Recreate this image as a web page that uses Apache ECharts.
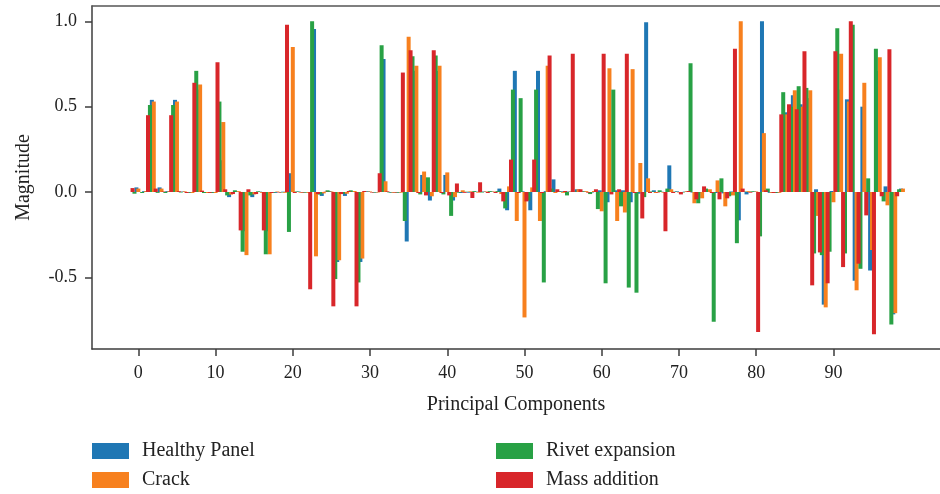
<!DOCTYPE html>
<html><head><meta charset="utf-8">
<script src="https://cdn.jsdelivr.net/npm/echarts@6/dist/echarts.min.js"></script>
<style>html,body{margin:0;padding:0;background:#fff}#c{width:940px;height:494px}</style>
</head><body><div id="c"></div>
<script>
// Principal component index (0..99)
const components = [];
for (let i = 0; i < 100; i++) components.push(i);

const xTicks = [0, 10, 20, 30, 40, 50, 60, 70, 80, 90];
const yTicks = [-0.5, 0.0, 0.5, 1.0];

const seriesNames = ['Healthy Panel', 'Crack', 'Rivet expansion', 'Mass addition'];

const healthy = [
 0.027,0.005,0.54,0.027,0.005,0.54,0.003,-0.005,0.60,-0.006,
 -0.005,0.186,-0.03,0.003,-0.23,-0.03,0.002,-0.23,-0.005,0.002,
 0.11,0.003,-0.002,0.955,-0.023,0.006,-0.41,-0.023,0.003,-0.41,
 0.004,-0.003,0.78,-0.004,-0.003,-0.29,0.71,0.10,-0.05,0.71,
 0.10,-0.05,-0.006,-0.004,0.002,0.003,0.003,0.02,-0.107,0.71,
 0.004,-0.107,0.71,0.005,0.074,0.004,0.003,0.016,0.003,-0.003,
 0.01,-0.06,0.01,0.01,-0.06,-0.01,0.995,0.01,0.002,0.156,
 0.004,0.002,-0.003,-0.005,0.004,-0.006,-0.008,0.003,-0.166,-0.014,
 0.003,1.0,-0.005,-0.006,0.467,0.567,0.514,0.55,0.016,-0.66,
 0.006,0.60,0.543,-0.52,0.50,-0.46,0.71,0.033,-0.717,0.02
];
const crack = [
 0.02,0.005,0.53,0.02,0.004,0.53,0.004,-0.006,0.63,-0.006,
 -0.006,0.41,-0.015,0.005,-0.37,-0.014,-0.005,-0.365,0.003,-0.005,
 0.85,-0.004,-0.005,-0.377,-0.008,0.003,-0.40,-0.01,0.006,-0.39,
 0.003,-0.003,0.063,-0.004,-0.004,0.91,0.74,0.12,-0.025,0.74,
 0.115,-0.03,0.01,0.004,-0.004,0.003,0.003,-0.012,0.033,-0.17,
 -0.735,0.027,-0.17,0.74,-0.006,-0.005,0.003,0.016,0.005,0.006,
 -0.113,0.725,-0.17,-0.12,0.72,0.17,0.08,-0.006,-0.004,0.016,
 -0.003,0.004,-0.066,-0.037,0.016,0.068,-0.084,-0.02,1.0,0.005,
 0.003,0.345,-0.005,-0.005,0.455,0.596,0.50,0.596,-0.14,-0.676,
 -0.06,0.81,0.53,-0.576,0.64,-0.34,0.79,-0.078,-0.71,0.02
];
const rivet = [
 -0.01,-0.006,0.51,-0.005,-0.006,0.51,-0.003,-0.004,0.71,-0.006,
 -0.005,0.53,-0.02,0.01,-0.35,-0.02,0.004,-0.365,-0.004,-0.003,
 -0.234,0.003,-0.004,1.0,-0.015,0.01,-0.51,-0.01,0.01,-0.53,
 0.002,-0.003,0.86,-0.003,-0.004,-0.17,0.795,-0.014,0.086,0.80,
 -0.014,-0.14,-0.004,0.002,0.005,-0.003,0.005,0.005,-0.096,0.60,
 0.55,-0.05,0.60,-0.53,0.02,0.004,-0.02,0.003,0.004,-0.012,
 -0.10,-0.535,0.60,-0.084,-0.56,-0.59,-0.03,0.003,0.01,0.02,
 0.002,-0.003,0.755,-0.066,0.02,-0.76,0.08,-0.025,-0.30,0.003,
 0.004,-0.26,0.02,-0.005,0.585,0.50,0.62,0.61,-0.36,-0.37,
 -0.35,0.96,-0.36,0.98,-0.45,0.08,0.84,-0.055,-0.776,0.016
];
const mass = [
 0.023,0.0,0.45,0.02,0.003,0.45,0.005,-0.006,0.64,0.008,
 -0.005,0.76,0.016,-0.012,-0.225,0.016,-0.012,-0.225,-0.006,-0.003,
 0.98,-0.006,-0.003,-0.57,-0.012,0.002,-0.67,-0.012,0.006,-0.67,
 0.006,-0.003,0.11,0.004,-0.003,0.70,0.83,-0.006,-0.02,0.83,
 -0.006,-0.02,0.05,-0.005,-0.035,0.057,-0.006,-0.006,-0.055,0.19,
 -0.006,-0.055,0.19,-0.006,0.80,0.016,0.006,0.81,0.016,-0.004,
 0.016,0.81,-0.014,0.016,0.81,-0.006,-0.155,-0.006,-0.003,-0.23,
 -0.006,-0.014,0.006,-0.043,0.033,-0.006,-0.043,-0.037,0.84,0.02,
 -0.004,-0.82,0.01,-0.006,0.455,0.514,0.485,0.825,-0.547,-0.354,
 -0.535,0.825,-0.44,1.0,-0.42,-0.137,-0.834,-0.025,0.836,-0.025
];

// layout / style settings (not data)
const shift = [-0.25, 0, -0.5, -0.75];
const colors = ['#1f77b4', '#f7801e', '#28a145', '#d8262a'];
const values = [healthy, crack, rivet, mass];
const legendPos = [[92, 441], [92, 470], [496, 441], [496, 470]];
const FONT = '"Liberation Serif", "DejaVu Serif", serif';
const AXIS = '#3c3c3c';

const chart = echarts.init(document.getElementById('c'), null, {renderer: 'canvas'});

const series = seriesNames.map((name, s) => ({
  name: name,
  type: 'bar',
  xAxisIndex: 0,
  yAxisIndex: 0,
  barWidth: 4,
  barGap: '-100%',
  itemStyle: {color: colors[s]},
  emphasis: {disabled: true},
  data: values[s].map((v, i) => [components[i] + shift[s], v])
}));

const legends = seriesNames.map((name, s) => ({
  data: [name],
  left: legendPos[s][0], top: legendPos[s][1], padding: 0,
  itemWidth: 37, itemHeight: 16, icon: 'rect', selectedMode: false,
  textStyle: {fontFamily: FONT, fontSize: 20, color: '#222', padding: [0, 0, 0, 8]}
}));

chart.setOption({
  animation: false,
  backgroundColor: '#fff',
  textStyle: {fontFamily: FONT},
  grid: {left: 92, right: 0, top: 6, bottom: 145, containLabel: false},
  xAxis: [{
    type: 'value', min: -6, max: 103.8, position: 'bottom',
    name: 'Principal Components', nameLocation: 'middle', nameGap: 46,
    nameTextStyle: {fontFamily: FONT, fontSize: 20, color: '#222'},
    axisLine: {show: true, onZero: false, lineStyle: {color: AXIS, width: 1.5}},
    axisTick: {show: true, length: 7, customValues: xTicks, lineStyle: {color: AXIS, width: 1.5}},
    axisLabel: {customValues: xTicks, margin: 15, fontFamily: FONT, fontSize: 18, color: '#222'},
    splitLine: {show: false}
  }, {
    type: 'value', min: -6, max: 103.8, position: 'top',
    axisLine: {show: true, onZero: false, lineStyle: {color: '#555', width: 1.5}},
    axisTick: {show: false}, axisLabel: {show: false}, splitLine: {show: false}
  }],
  yAxis: {
    type: 'value', min: -0.92, max: 1.09,
    name: 'Magnitude', nameLocation: 'middle', nameGap: 58, nameRotate: 90,
    nameTextStyle: {fontFamily: FONT, fontSize: 20, color: '#222'},
    axisLine: {show: true, onZero: false, lineStyle: {color: AXIS, width: 1.5}},
    axisTick: {show: true, length: 7, customValues: yTicks, lineStyle: {color: AXIS, width: 1.5}},
    axisLabel: {customValues: yTicks, margin: 15, fontFamily: FONT, fontSize: 18, color: '#222',
      formatter: v => v.toFixed(1)},
    splitLine: {show: false}
  },
  legend: legends,
  series: series
});
</script>
</body></html>
